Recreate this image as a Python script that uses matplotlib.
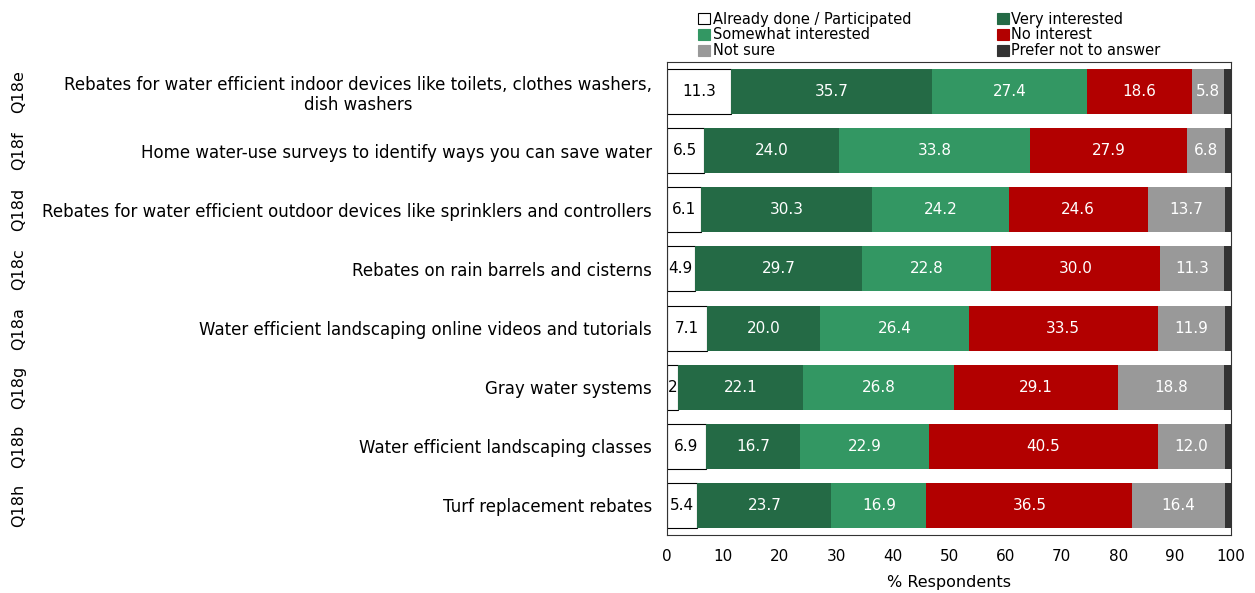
import matplotlib.pyplot as plt
import numpy as np
from matplotlib.patches import Patch
from matplotlib.transforms import blended_transform_factory

# survey items, top to bottom
codes = ["Q18e", "Q18f", "Q18d", "Q18c", "Q18a", "Q18g", "Q18b", "Q18h"]
items = [
    "Rebates for water efficient indoor devices like toilets, clothes washers,\ndish washers",
    "Home water-use surveys to identify ways you can save water",
    "Rebates for water efficient outdoor devices like sprinklers and controllers",
    "Rebates on rain barrels and cisterns",
    "Water efficient landscaping online videos and tutorials",
    "Gray water systems",
    "Water efficient landscaping classes",
    "Turf replacement rebates",
]

# % respondents per answer
already_done = [11.3, 6.5, 6.1, 4.9, 7.1, 2.0, 6.9, 5.4]
very_interested = [35.7, 24.0, 30.3, 29.7, 20.0, 22.1, 16.7, 23.7]
somewhat_interested = [27.4, 33.8, 24.2, 22.8, 26.4, 26.8, 22.9, 16.9]
no_interest = [18.6, 27.9, 24.6, 30.0, 33.5, 29.1, 40.5, 36.5]
not_sure = [5.8, 6.8, 13.7, 11.3, 11.9, 18.8, 12.0, 16.4]
prefer_not = [1.2, 1.0, 1.1, 1.3, 1.1, 1.2, 1.0, 1.1]

series = [
    ("Already done / Participated", already_done, "white", "black"),
    ("Very interested", very_interested, "#246a45", "white"),
    ("Somewhat interested", somewhat_interested, "#339763", "white"),
    ("No interest", no_interest, "#b20000", "white"),
    ("Not sure", not_sure, "#999999", "white"),
    ("Prefer not to answer", prefer_not, "#333333", "white"),
]

plt.rcParams["font.family"] = "DejaVu Sans"
fig = plt.figure(figsize=(12.55, 5.93), dpi=100)
ax = fig.add_axes([0.5315, 0.0978, 0.4494, 0.7976])

y = np.arange(len(items))
left = np.zeros(len(items))
for name, vals, color, txt in series:
    vals = np.array(vals)
    edge = "black" if color == "white" else color
    lw = 0.8 if color == "white" else 0
    ax.barh(y, vals, left=left, height=0.76, color=color, edgecolor=edge, linewidth=lw)
    if name != "Prefer not to answer":
        for yi, (l, v) in enumerate(zip(left, vals)):
            label = "2" if v == 2.0 and name.startswith("Already") else f"{v:.1f}"
            ax.text(l + v / 2, yi, label, ha="center", va="center",
                    color=txt, fontsize=11)
    left += vals

ax.set_ylim(len(items) - 0.5, -0.5)
ax.set_xlim(0, 100)
ax.set_xticks(range(0, 101, 10))
ax.set_yticks(y)
ax.set_yticklabels(items, fontsize=12, multialignment="center")
ax.tick_params(axis="both", length=0)
ax.tick_params(axis="y", pad=11)
ax.tick_params(axis="x", pad=10, labelsize=11)
ax.set_xlabel("% Respondents", fontsize=11.5, labelpad=8)
for s in ax.spines.values():
    s.set_linewidth(0.8)
    s.set_color("#333333")

# question codes down the far left
trans = blended_transform_factory(fig.transFigure, ax.transData)
for yi, code in zip(y, codes):
    ax.text(0.0145, yi, code, transform=trans, rotation=90,
            ha="center", va="center", fontsize=11.5)

handles = [Patch(facecolor=c, edgecolor="black" if c == "white" else c, linewidth=0.8)
           for _, _, c, _ in series]
labels = [n for n, _, _, _ in series]
order = [0, 2, 4, 1, 3, 5]
fig.legend([handles[i] for i in order], [labels[i] for i in order],
           ncol=2, loc="upper left", bbox_to_anchor=(0.5496, 0.995),
           frameon=False, fontsize=10.5, handlelength=0.8, handleheight=0.8,
           handletextpad=0.2, labelspacing=0.05, columnspacing=5.85,
           borderaxespad=0.2)

fig.savefig("out.png", dpi=100)
